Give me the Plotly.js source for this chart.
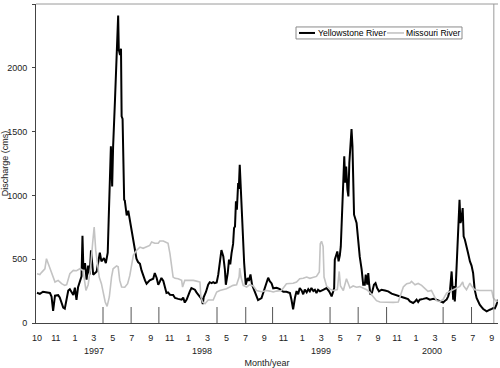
<!DOCTYPE html>
<html><head><meta charset="utf-8">
<script src="https://cdn.plot.ly/plotly-3.0.1.min.js"></script>
<style>html,body{margin:0;padding:0;background:#fff}#chart{width:500px;height:368px}</style>
</head><body><div id="chart"></div>
<script>
const yellowstoneDates = ['1996-10-01','1996-10-10','1996-10-20','1996-11-01','1996-11-11','1996-11-16','1996-11-21','1996-11-27','1996-12-07','1996-12-12','1996-12-23','1996-12-28',
'1997-01-03','1997-01-08','1997-01-13','1997-01-24','1997-01-29','1997-02-03','1997-02-08','1997-02-14','1997-02-19','1997-02-22','1997-02-25','1997-03-02','1997-03-07','1997-03-12','1997-03-17','1997-03-21','1997-03-25','1997-03-28','1997-04-08','1997-04-18','1997-04-23','1997-05-01','1997-05-07','1997-05-13','1997-05-16','1997-05-20','1997-05-23','1997-05-27','1997-05-30','1997-06-05','1997-06-10','1997-06-15','1997-06-17','1997-06-21','1997-06-24','1997-06-26','1997-06-29','1997-07-01','1997-07-04','1997-07-06','1997-07-12','1997-07-17','1997-07-22','1997-07-28','1997-08-02','1997-08-07','1997-08-12','1997-08-17','1997-08-23','1997-08-28','1997-09-02','1997-09-08','1997-09-13','1997-09-23','1997-10-04','1997-10-09','1997-10-15','1997-10-20','1997-10-25','1997-10-30','1997-11-05','1997-11-10','1997-11-15','1997-11-20','1997-11-26','1997-12-06','1997-12-12','1997-12-22',
'1998-01-02','1998-01-07','1998-01-12','1998-01-18','1998-01-23','1998-01-28','1998-02-02','1998-02-08','1998-02-13','1998-02-18','1998-02-23','1998-03-01','1998-03-06','1998-03-10','1998-03-13','1998-03-20','1998-03-27','1998-04-01','1998-04-07','1998-04-12','1998-04-17','1998-04-23','1998-04-28','1998-05-03','1998-05-08','1998-05-14','1998-05-19','1998-05-22','1998-05-28','1998-06-01','1998-06-05','1998-06-09','1998-06-14','1998-06-17','1998-06-20','1998-06-23','1998-06-26','1998-06-30','1998-07-02','1998-07-05','1998-07-09','1998-07-13','1998-07-16','1998-07-19','1998-07-24','1998-07-30','1998-08-03','1998-08-08','1998-08-13','1998-08-22','1998-09-01','1998-09-12','1998-09-23','1998-10-03','1998-10-08','1998-10-14','1998-10-19','1998-10-30','1998-11-09','1998-11-20','1998-11-30','1998-12-11','1998-12-16','1998-12-21','1998-12-27',
'1999-01-01','1999-01-06','1999-01-11','1999-01-17','1999-01-22','1999-01-27','1999-02-02','1999-02-07','1999-02-12','1999-02-17','1999-02-23','1999-02-28','1999-03-05','1999-03-10','1999-03-16','1999-03-26','1999-04-06','1999-04-14','1999-04-22','1999-04-27','1999-04-30','1999-05-02','1999-05-05','1999-05-10','1999-05-14','1999-05-18','1999-05-21','1999-05-25','1999-05-29','1999-06-01','1999-06-04','1999-06-07','1999-06-11','1999-06-14','1999-06-17','1999-06-21','1999-06-24','1999-06-27','1999-07-01','1999-07-02','1999-07-10','1999-07-15','1999-07-20','1999-07-26','1999-07-31','1999-08-05','1999-08-08','1999-08-13','1999-08-16','1999-08-19','1999-08-23','1999-08-28','1999-09-03','1999-09-08','1999-09-13','1999-09-19','1999-09-27','1999-10-08','1999-10-18','1999-10-29','1999-11-08','1999-11-19','1999-11-30','1999-12-10','1999-12-20','1999-12-26',
'2000-01-05','2000-01-11','2000-01-16','2000-01-21','2000-01-26','2000-02-06','2000-02-17','2000-02-27','2000-03-09','2000-03-19','2000-03-30','2000-04-09','2000-04-15','2000-04-20','2000-04-25','2000-05-01','2000-05-06','2000-05-09','2000-05-11','2000-05-14','2000-05-16','2000-05-19','2000-05-24','2000-05-27','2000-05-29','2000-05-31','2000-06-03','2000-06-06','2000-06-10','2000-06-13','2000-06-17','2000-06-22','2000-06-27','2000-07-03','2000-07-08','2000-07-13','2000-07-18','2000-07-24','2000-07-29','2000-08-03','2000-08-09','2000-08-14','2000-08-25','2000-08-30','2000-09-04','2000-09-10','2000-09-15','2000-09-20','2000-09-25','2000-09-29'];
const yellowstoneFlow = [237,228,245,240,235,208,95,215,218,200,120,112,
180,255,265,220,277,182,280,326,365,684,420,470,340,450,380,569,418,379,404,551,483,509,470,551,809,1175,1384,1070,1384,1750,2142,2410,2142,2100,2150,1619,1600,1255,966,961,843,880,804,726,635,569,504,478,465,412,373,334,308,334,347,392,353,300,324,353,330,270,235,240,222,220,196,189,
183,199,160,183,222,248,274,270,261,240,220,205,190,148,204,243,300,320,313,320,313,318,379,470,572,522,418,300,390,496,460,545,620,745,757,953,888,1097,1050,1240,992,780,548,470,300,353,330,380,300,240,180,195,282,355,327,310,272,276,265,245,245,235,180,108,200,
250,225,274,255,225,262,240,265,248,274,250,260,235,260,248,260,274,248,209,248,274,496,522,561,483,530,600,862,1071,1306,1100,1227,1045,992,1254,1450,1520,1384,1071,849,784,650,520,420,300,300,379,300,392,300,222,240,300,313,274,248,261,255,248,230,220,214,204,196,188,169,
157,169,183,165,183,189,196,183,189,183,169,161,175,183,209,261,404,300,183,290,169,287,548,705,810,966,784,810,901,679,653,588,548,483,450,392,261,196,169,143,125,110,91,95,104,110,117,115,143,183];

const missouriDates = ['1996-10-01','1996-10-10','1996-10-15','1996-10-26','1996-10-31','1996-11-05','1996-11-11','1996-11-21','1996-11-27','1996-12-07','1996-12-18','1996-12-28',
'1997-01-03','1997-01-13','1997-01-24','1997-02-03','1997-02-14','1997-02-24','1997-03-05','1997-03-12','1997-03-20','1997-03-26','1997-03-31','1997-04-05','1997-04-11','1997-04-16','1997-04-23','1997-04-29','1997-05-05','1997-05-11','1997-05-18','1997-05-25','1997-05-30','1997-06-10','1997-06-15','1997-06-20','1997-06-26','1997-07-06','1997-07-15','1997-07-22','1997-07-28','1997-08-02','1997-08-12','1997-08-23','1997-09-02','1997-09-13','1997-09-23','1997-09-29','1997-10-09','1997-10-20','1997-10-25','1997-11-05','1997-11-15','1997-11-20','1997-11-26','1997-12-01','1997-12-06','1997-12-12','1997-12-22',
'1998-01-02','1998-01-05','1998-01-12','1998-01-23','1998-02-08','1998-02-18','1998-03-01','1998-03-04','1998-03-09','1998-03-17','1998-03-22','1998-03-27','1998-04-12','1998-04-23','1998-05-03','1998-05-24','1998-06-14','1998-06-25','1998-07-03','1998-07-05','1998-07-09','1998-07-16','1998-07-27','1998-08-06','1998-08-17','1998-08-27','1998-09-12','1998-09-28','1998-10-08','1998-10-19','1998-10-30','1998-11-14','1998-11-30','1998-12-11','1998-12-21',
'1999-01-01','1999-01-11','1999-01-22','1999-02-02','1999-02-12','1999-02-23','1999-03-05','1999-03-14','1999-03-17','1999-03-21','1999-03-26','1999-03-29','1999-04-06','1999-04-17','1999-04-27','1999-05-10','1999-05-16','1999-05-20','1999-05-29','1999-06-08','1999-06-14','1999-06-19','1999-06-29','1999-07-10','1999-07-20','1999-07-31','1999-08-11','1999-08-21','1999-09-01','1999-09-11','1999-09-22','1999-10-13','1999-11-03','1999-11-19','1999-11-24','1999-12-05','1999-12-10','1999-12-16','1999-12-26','1999-12-31',
'2000-01-11','2000-01-21','2000-02-01','2000-02-11','2000-02-21','2000-03-03','2000-03-09','2000-03-19','2000-03-30','2000-04-09','2000-04-20','2000-05-01','2000-05-11','2000-05-22','2000-06-01','2000-06-10','2000-06-13','2000-06-22','2000-07-03','2000-07-08','2000-07-18','2000-08-03','2000-08-25','2000-09-10','2000-09-15','2000-09-25','2000-09-29'];
const missouriFlow = [386,380,395,425,504,470,439,360,321,334,308,295,
300,386,412,410,425,412,255,300,439,621,752,569,439,360,308,243,165,130,204,360,425,447,440,334,282,280,308,373,452,530,569,595,585,595,608,635,625,625,643,643,635,625,543,439,360,350,347,
334,282,334,334,334,328,321,204,165,151,165,180,180,243,255,269,295,300,360,431,360,295,282,300,290,255,245,255,250,243,250,255,308,308,312,
321,347,350,360,350,360,365,400,621,640,600,360,290,265,255,262,404,290,255,347,300,275,290,280,285,270,261,240,205,175,165,162,162,165,200,282,295,308,313,326,
300,310,295,270,248,255,220,175,169,185,235,248,260,270,287,321,290,261,313,290,261,255,255,255,196,169,175];

// x-axis month labels (every 60 days, Excel style) and interior season ticks
const monthTickDates = ['1996-10-01','1996-11-30','1997-01-29','1997-03-30','1997-05-29','1997-07-28','1997-09-26','1997-11-25','1998-01-24','1998-03-25','1998-05-24','1998-07-23','1998-09-21','1998-11-20','1999-01-19','1999-03-20','1999-05-19','1999-07-18','1999-09-16','1999-11-15','2000-01-14','2000-03-14','2000-05-13','2000-07-12','2000-09-10'];
const seasonTickDates = ['1997-04-28','1997-07-26','1997-10-22','1998-04-24','1998-07-24','1998-10-17','1999-04-17','1999-07-15','1999-10-13','2000-04-09','2000-07-08'];
const yearLabels = ['1997','1998','1999','2000'];
const yearLabelDates = ['1997-04-01','1998-03-06','1999-03-18','2000-03-04'];
const yTickVals = [0,500,1000,1500,2000,2500];
const seriesNames = ['Yellowstone River','Missouri River'];
const seriesColors = ['#000000','#c3c3c3'];
const seriesWidths = [2, 1.6];

const FONT = 'Liberation Sans, Arial, sans-serif';
const xRange = ['1996-09-27 20:00','2000-09-29 20:00'];

const traces = [
  {x: yellowstoneDates, y: yellowstoneFlow, type:'scatter', mode:'lines', name:seriesNames[0],
   line:{color:seriesColors[0], width:seriesWidths[0]}},
  {x: missouriDates, y: missouriFlow, type:'scatter', mode:'lines', name:seriesNames[1],
   line:{color:seriesColors[1], width:seriesWidths[1]}}
];

const annotations = yearLabels.map((t,i)=>({
  text:t, x:yearLabelDates[i], xref:'x', y:0, yref:'paper', yanchor:'top', yshift:-21,
  showarrow:false, font:{family:FONT, size:9, color:'#222'}
}));

// season tick marks drawn on the x scale, rising from the axis
const shapes = seasonTickDates.map(d=>({
  type:'line', xref:'x', yref:'paper', x0:d, x1:d, y0:0, y1:16/319,
  line:{color:'#555', width:1}
}));
shapes.push(
  {type:'line', xref:'paper', yref:'paper', x0:0, x1:1, y0:1, y1:1, line:{color:'#9a9a9a', width:1}},
  {type:'line', xref:'paper', yref:'paper', x0:0.991, x1:0.991, y0:0, y1:1, line:{color:'#9a9a9a', width:1}}
);

// compact legend box (matches the thin Excel-style legend)
const lg = {x0:0.5628, x1:0.9221, y0:0.8904, y1:0.928, yc:0.9092,
            sample:[[0.5693,0.6039],[0.7597,0.7965]], text:[0.6061,0.7976]};
shapes.push({type:'rect', xref:'paper', yref:'paper', x0:lg.x0, x1:lg.x1, y0:lg.y0, y1:lg.y1,
  line:{color:'#8a8a8a', width:1}, fillcolor:'#ffffff', layer:'above'});
seriesNames.forEach((n,i)=>{
  shapes.push({type:'line', xref:'paper', yref:'paper', x0:lg.sample[i][0], x1:lg.sample[i][1],
    y0:lg.yc, y1:lg.yc, line:{color:seriesColors[i], width:seriesWidths[i]}, layer:'above'});
  annotations.push({text:n, xref:'paper', yref:'paper', x:lg.text[i], y:lg.yc, xanchor:'left',
    yanchor:'middle', showarrow:false, font:{family:FONT, size:8.6, color:'#000'}});
});

const layout = {
  width:500, height:368,
  margin:{l:36, r:2, t:4, b:45},
  paper_bgcolor:'#ffffff', plot_bgcolor:'#ffffff',
  font:{family:FONT, size:9, color:'#222'},
  showlegend:false,
  xaxis:{type:'date', range:xRange, tickvals:monthTickDates, tickformat:'%-m',
    ticks:'', showgrid:false, zeroline:false, showline:true, linecolor:'#444', linewidth:1,
    tickfont:{family:FONT, size:9, color:'#222'}, ticklabelstandoff:6,
    title:{text:'Month/year', font:{family:FONT, size:9, color:'#222'}, standoff:20}},
  yaxis:{range:[0,2500], tickvals:yTickVals, ticks:'outside', ticklen:3, tickcolor:'#444',
    showgrid:false, zeroline:false, showline:true, linecolor:'#444', linewidth:1,
    tickfont:{family:FONT, size:9, color:'#222'}, ticklabelstandoff:3,
    title:{text:'Discharge (cms)', font:{family:FONT, size:9, color:'#222'}, standoff:6}},
  annotations: annotations,
  shapes: shapes
};

Plotly.newPlot('chart', traces, layout, {staticPlot:true, displayModeBar:false});
</script>
</body></html>
